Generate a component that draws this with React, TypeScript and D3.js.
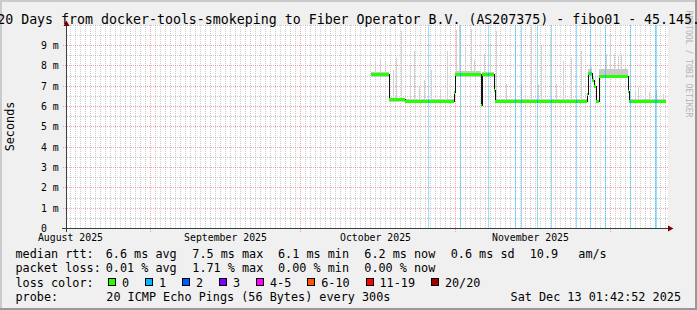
import React from "react";
import * as d3 from "d3";

const W = 697;
const H = 310;

// ---------- data ----------
const titleText = "120 Days from docker-tools-smokeping to Fiber Operator B.V. (AS207375) - fibo01 - 45.145.";
const yTickValues = [0, 1, 2, 3, 4, 5, 6, 7, 8, 9];
const yTickLabels = ["0", "1 m", "2 m", "3 m", "4 m", "5 m", "6 m", "7 m", "8 m", "9 m"];
const monthLineDays = [16.7, 46.7, 77.7, 108.7];
const monthLabelDays = [0.7, 31.7, 61.7, 92.7];
const monthLabels = ["August 2025", "September 2025", "October 2025", "November 2025"];

// median RTT steps (days since graph start, milliseconds)
const segDays = [60.8, 64.4, 67.6, 77.4, 77.6, 82.8, 83.0, 85.4, 85.6, 104.0, 104.2, 105.0, 105.4, 105.8, 106.4, 112.2, 112.4, 119.8];
const medianMs = [7.55, 6.32, 6.25, 6.68, 7.55, 6.07, 7.55, 6.81, 6.25, 6.57, 7.6, 7.3, 6.99, 6.24, 7.47, 6.72, 6.25, 6.25];
const smokeLoMs = [7.45, 6.2, 6.18, 6.6, 7.45, 6.0, 7.45, 6.75, 6.18, 6.5, 7.5, 7.2, 6.9, 6.18, 7.4, 6.65, 6.18, 6.18];
const smokeHiMs = [7.7, 6.4, 6.36, 6.75, 7.75, 6.1, 7.72, 6.85, 6.36, 6.62, 7.85, 7.45, 7.05, 6.32, 7.85, 6.8, 6.35, 6.35];

// outlier pings (smoke spikes)
const spikeDays = [61.6, 62.74, 63.6, 65.26, 65.94, 66.94, 68.6, 69.6, 70.6, 71.6, 72.94, 74.6, 76.06, 77.94, 78.6, 79.8, 80.94, 81.6, 83.4, 84.74, 85.94, 87.94, 89.6, 90.94, 92.94, 94.2, 94.94, 96.6, 97.94, 99.26, 100.94, 102.94, 104.8, 107.94, 108.6, 109.4, 110.26, 110.94, 111.6, 113.6, 114.26, 115.6, 116.6, 117.94, 119.26];
const spikeTopMs = [8.26, 8.3, 8.2, 7.8, 8.4, 9.7, 8.0, 8.75, 7.0, 7.3, 7.8, 6.8, 8.75, 9.74, 10, 8.9, 9.8, 8.3, 8.6, 9.1, 9.7, 7.1, 9.24, 7.1, 10, 7.1, 9.0, 9.4, 7.1, 8.26, 8.4, 8.75, 7.93, 8.6, 9.6, 8.6, 8.5, 8.6, 7.9, 6.7, 6.95, 7.0, 6.7, 6.8, 6.6];

// samples with 1/20 loss
const lossStartDays = [72.2, 78.6, 84.2, 89.6, 90.8, 94.0, 96.8, 101.8, 104.6, 107.6, 112.6, 117.6];
const lossDurDays = [0.2, 0.2, 0.2, 0.2, 0.2, 0.2, 0.2, 0.2, 0.2, 0.2, 0.2, 0.4];

const rttLegendLabel = "median rtt:";
const rttLegendItems = ["6.6 ms avg", "7.5 ms max", "6.1 ms min", "6.2 ms now", "0.6 ms sd", "10.9", "am/s"];
const lossLegendLabel = "packet loss:";
const lossLegendItems = ["0.01 % avg", "1.71 % max", "0.00 % min", "0.00 % now"];
const lossColorLabel = "loss color:";
const lossClassLabels = ["0", "1", "2", "3", "4-5", "6-10", "11-19", "20/20"];
const lossClassColors = ["#26ff00", "#00b8ff", "#0059ff", "#7e00ff", "#ff00ff", "#ff5500", "#ff0000", "#a10000"];
const probeLabel = "probe:";
const probeText = "20 ICMP Echo Pings (56 Bytes) every 300s";
const dateText = "Sat Dec 13 01:42:52 2025";
const unitLabel = "Seconds";
const watermark = "RRDTOOL / TOBI OETIKER";

// ---------- layout ----------
const legendColX = [105.7, 192.3, 278, 364.3, 450.7, 529.7, 578.3];
const legendRowY = [258.3, 272.4, 286.5, 300.6];
const MONO = "'DejaVu Sans Mono', monospace";

export default function App() {
  const xs = d3.scaleLinear().domain([0, 120]).range([67, 667]);
  const ys = d3.scaleLinear().domain([0, 10]).range([228.5, 25.17]);
  const snap = (v: number) => Math.floor(v) + 0.5;

  const series = segDays.map((d, i) => ({ d, m: medianMs[i], lo: smokeLoMs[i], hi: smokeHiMs[i] }));
  const bis = d3.bisector((p: any) => p.d).right;
  const medianAt = (day: number) => {
    const i = Math.max(0, bis(series, day) - 1);
    return series[i].m;
  };

  const minorX = d3.range(0.7, 120, 1).filter((d) => !monthLineDays.some((m) => Math.abs(m - d) < 0.01));
  const minorY = d3.range(0.5, 10.01, 0.5).filter((v) => Math.abs(v - Math.round(v)) > 0.01 || v > 9.5);
  const majorY = yTickValues.filter((v) => v > 0);

  const smokeArea = d3
    .area<any>()
    .x((p) => xs(p.d))
    .y0((p) => ys(p.lo))
    .y1((p) => ys(p.hi))
    .curve(d3.curveStepAfter);
  const medLine = d3
    .line<any>()
    .x((p) => xs(p.d))
    .y((p) => snap(ys(p.m)))
    .curve(d3.curveStepAfter);
  const medBand = d3
    .area<any>()
    .x((p) => xs(p.d))
    .y0((p) => Math.floor(ys(p.m)) + 2)
    .y1((p) => Math.floor(ys(p.m)) - 1)
    .curve(d3.curveStepAfter);

  // legend boxes layout
  const charW = 7.1;
  const boxes: { bx: number; lx: number; label: string; color: string }[] = [];
  let bx = 108;
  lossClassLabels.forEach((lab, i) => {
    const lx = bx + 14;
    boxes.push({ bx, lx, label: lab, color: lossClassColors[i] });
    bx = lx + lab.length * charW + 15.9;
  });

  const gridMinor = "rgba(143,143,143,0.45)";
  const gridMajor = "rgba(230,60,60,0.45)";

  return (
    <>
      <style>{"body{margin:0;}"}</style>
      <svg width={W} height={H} style={{ display: "block" }} fontFamily={MONO}>
        {/* background and 3D border */}
        <rect x={0} y={0} width={W} height={H} fill="#f0f0f0" />
        <rect x={0} y={0} width={W} height={2} fill="#cbcbcb" />
        <rect x={0} y={0} width={2} height={H} fill="#cbcbcb" />
        <rect x={0} y={H - 2} width={W} height={2} fill="#999999" />
        <rect x={W - 2} y={0} width={2} height={H} fill="#999999" />

        {/* canvas */}
        <rect x={67} y={25} width={601} height={203.5} fill="#ffffff" />

        {/* minor grid */}
        <g stroke={gridMinor} strokeWidth={1} strokeDasharray="1 1" shapeRendering="crispEdges">
          {minorX.map((d) => (
            <line key={"mx" + d} x1={snap(xs(d))} x2={snap(xs(d))} y1={25} y2={228} />
          ))}
          {minorY.map((v) => (
            <line key={"my" + v} x1={67} x2={668} y1={snap(ys(v))} y2={snap(ys(v))} />
          ))}
        </g>
        {/* major grid */}
        <g stroke={gridMajor} strokeWidth={1} strokeDasharray="1 1" shapeRendering="crispEdges">
          {monthLineDays.map((d) => (
            <line key={"Mx" + d} x1={snap(xs(d))} x2={snap(xs(d))} y1={25} y2={232} />
          ))}
          {majorY.map((v) => (
            <line key={"My" + v} x1={63} x2={668} y1={snap(ys(v))} y2={snap(ys(v))} />
          ))}
        </g>

        {/* smoke */}
        <g stroke="#d2d2d2" strokeWidth={1} shapeRendering="crispEdges">
          {spikeDays.map((d, i) => {
            const x = snap(xs(d));
            return <line key={"sp" + i} x1={x} x2={x} y1={ys(medianAt(d))} y2={Math.max(25, ys(spikeTopMs[i]))} />;
          })}
        </g>
        <path d={smokeArea(series) || ""} fill="#c9c9c9" shapeRendering="crispEdges" />

        {/* loss ticks */}
        {lossStartDays.map((d, i) => (
          <rect
            key={"lt" + i}
            x={xs(d)}
            width={xs(d + lossDurDays[i]) - xs(d)}
            y={25}
            height={203.5}
            fill="rgba(0,184,255,0.42)"
            shapeRendering="crispEdges"
          />
        ))}

        {/* median */}
        <path d={medLine(series) || ""} fill="none" stroke="#111" strokeWidth={1} shapeRendering="crispEdges" />
        <path d={medBand(series) || ""} fill={lossClassColors[0]} shapeRendering="crispEdges" />
        {lossStartDays.map((d, i) => {
          const m = medianAt(d + 0.05);
          return (
            <rect
              key={"lm" + i}
              x={xs(d)}
              width={xs(d + lossDurDays[i]) - xs(d)}
              y={Math.floor(ys(m)) - 1}
              height={3}
              fill={lossClassColors[1]}
              shapeRendering="crispEdges"
            />
          );
        })}

        {/* axes */}
        <g stroke="#3a4040" strokeWidth={1} shapeRendering="crispEdges">
          <line x1={62} x2={669} y1={228.5} y2={228.5} />
          <line x1={66.5} x2={66.5} y1={232} y2={24} />
        </g>
        <polygon points="668,225.5 668,231.5 673.5,228.5" fill="#7f0000" />
        <polygon points="63.5,26 69.5,26 66.5,20.5" fill="#7f0000" />

        {/* y tick labels */}
        <g fontSize={9.83} fill="#000">
          {yTickValues.map((v, i) => (
            <text key={"yl" + v} x={41} y={snap(ys(v)) + 3.6}>
              {yTickLabels[i]}
            </text>
          ))}
        </g>
        {/* month labels */}
        <g fontSize={9.83} fill="#000" textAnchor="middle">
          {monthLabelDays.map((d, i) => (
            <text key={"ml" + i} x={xs(d)} y={241}>
              {monthLabels[i]}
            </text>
          ))}
        </g>

        {/* unit label */}
        <text x={13.5} y={126.5} fontSize={11.8} textAnchor="middle" transform="rotate(-90 13.5 126.5)">
          {unitLabel}
        </text>

        {/* watermark */}
        <text
          x={686}
          y={64}
          fontSize={8.07}
          fill="#b5b5b5"
          textAnchor="middle"
          transform="rotate(90 686 64)"
        >
          {watermark}
        </text>

        {/* title */}
        <text x={-10.8} y={23.5} fontSize={13.27} fill="#000" style={{ whiteSpace: "pre" }}>
          {titleText}
        </text>

        {/* legend */}
        <g fontSize={11.8} fill="#000" style={{ whiteSpace: "pre" }}>
          <text x={15.5} y={legendRowY[0]}>{rttLegendLabel}</text>
          {rttLegendItems.map((t, i) => (
            <text key={"r" + i} x={legendColX[i]} y={legendRowY[0]}>
              {t}
            </text>
          ))}
          <text x={15.5} y={legendRowY[1]}>{lossLegendLabel}</text>
          {lossLegendItems.map((t, i) => (
            <text key={"p" + i} x={legendColX[i]} y={legendRowY[1]}>
              {t}
            </text>
          ))}
          <text x={15.5} y={legendRowY[2]}>{lossColorLabel}</text>
          {boxes.map((b, i) => (
            <g key={"b" + i}>
              <rect x={b.bx + 0.5} y={278.5} width={7} height={7} fill={b.color} stroke="#000" strokeWidth={1} shapeRendering="crispEdges" />
              <text x={b.lx} y={legendRowY[2]}>
                {b.label}
              </text>
            </g>
          ))}
          <text x={15.5} y={legendRowY[3]}>{probeLabel}</text>
          <text x={106.3} y={legendRowY[3]}>{probeText}</text>
          <text x={681} y={legendRowY[3]} textAnchor="end">
            {dateText}
          </text>
        </g>
      </svg>
    </>
  );
}
